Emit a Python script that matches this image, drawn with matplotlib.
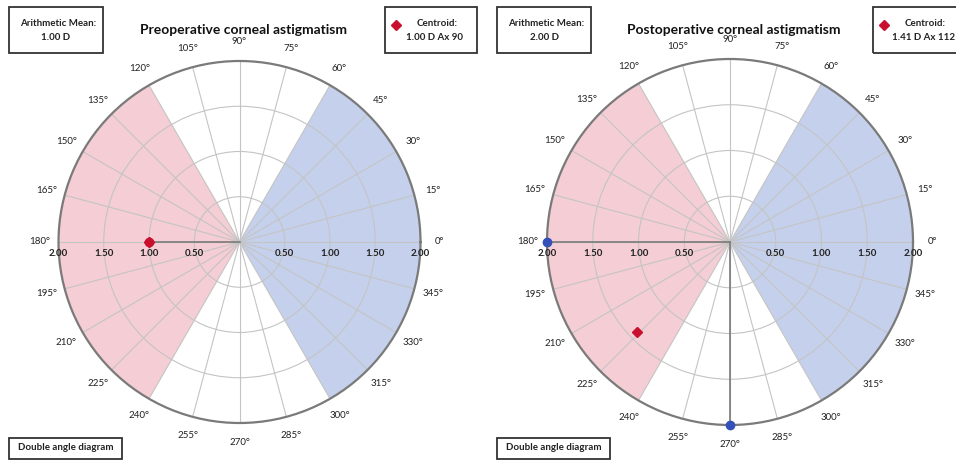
import numpy as np
import matplotlib.pyplot as plt
from matplotlib.patches import Rectangle
from matplotlib.lines import Line2D

titles = ['Preoperative corneal astigmatism', 'Postoperative corneal astigmatism']
mean_values = [1.00, 2.00]
centroid_mag = [1.00, 1.41]
centroid_axis = [90, 112]

# individual eyes: magnitude (D) and axis (deg); plotted at double angle
pre_mag = [1.00]
pre_axis = [90]
post_mag = [2.00, 2.00]
post_axis = [90, 135]

ring_values = [0.50, 1.00, 1.50, 2.00]
angle_ticks = list(range(0, 360, 15))

PINK = '#f5cdd4'
BLUE = '#c5d1ec'
RED = '#c8102e'
DOT_BLUE = '#3550b8'
GRID = '#c4c4c4'

plt.rcParams['font.family'] = ['Lato', 'DejaVu Sans']

W, H = 956, 462
fig = plt.figure(figsize=(W / 100, H / 100), dpi=100)


def px_rect(x0, y0, x1, y1):
    return [x0 / W, 1 - y1 / H, (x1 - x0) / W, (y1 - y0) / H]


def box(x0, y0, x1, y1):
    fig.patches.append(Rectangle((x0 / W, 1 - y1 / H), (x1 - x0) / W, (y1 - y0) / H,
                                 transform=fig.transFigure, fill=False,
                                 edgecolor='#333333', linewidth=1.3))


def draw_panel(cx, cy, R, title, c_mag, c_axis, mags, axes, dot_color):
    ax = fig.add_axes(px_rect(cx - R, cy - R, cx + R, cy + R), projection='polar')
    ax.set_ylim(0, 2.0)
    ax.set_yticks(ring_values[:-1])
    ax.set_yticklabels([])
    ax.set_xticks(np.deg2rad(angle_ticks))
    ax.set_xticklabels([])
    ax.grid(True, color=GRID, linewidth=0.8)
    ax.spines['polar'].set_color('#7a7a7a')
    ax.spines['polar'].set_linewidth(1.6)

    # astigmatism sectors
    ax.bar(np.deg2rad(180), 2.0, width=np.deg2rad(120), color=PINK, zorder=0, linewidth=0)
    ax.bar(np.deg2rad(0), 2.0, width=np.deg2rad(120), color=BLUE, zorder=0, linewidth=0)

    # angle labels
    for a in angle_ticks:
        ax.text(np.deg2rad(a), 2.21, f'{a}°', ha='center', va='center', fontsize=7,
                color='#222222')

    # ring labels along the horizontal axis
    for r in ring_values:
        for side in (0, 180):
            ax.annotate(f'{r:.2f}', xy=(np.deg2rad(side), r), xytext=(0, -8),
                        textcoords='offset points', ha='center', va='center',
                        fontsize=7, fontweight='bold', color='#222222')

    # eyes
    for m, a in zip(mags, axes):
        th = np.deg2rad(2 * a)
        ax.plot([0, th], [0, m], color='#7a7a7a', linewidth=1.2, zorder=3)
        ax.plot(th, m, 'o', color=dot_color, markersize=6, zorder=4, clip_on=False)

    # centroid
    ax.plot(np.deg2rad(2 * c_axis), c_mag, 'D', color=RED, markersize=5, zorder=5,
            clip_on=False)

    fig.text((cx + 4) / W, 1 - 30 / H, title, ha='center', va='center', fontsize=10,
             fontweight='bold', color='#111111')


draw_panel(239.5, 242, 181, titles[0], centroid_mag[0], centroid_axis[0],
           pre_mag, pre_axis, RED)
draw_panel(730, 242, 183, titles[1], centroid_mag[1], centroid_axis[1],
           post_mag, post_axis, DOT_BLUE)

# info boxes
for off, mean, c_mag, c_axis in [(0, mean_values[0], centroid_mag[0], centroid_axis[0]),
                                   (488, mean_values[1], centroid_mag[1], centroid_axis[1])]:
    box(9 + off, 7, 103 + off, 53)
    fig.text((58 + off) / W, 1 - 23 / H, 'Arithmetic Mean:', ha='center', va='center',
             fontsize=7, fontweight='bold', color='#222222')
    fig.text((56 + off) / W, 1 - 37 / H, f'{mean:.2f} D', ha='center', va='center',
             fontsize=7, fontweight='bold', color='#222222')

    box(385 + off, 7, 477 + off, 53)
    fig.lines.append(Line2D([(396 + off) / W], [1 - 25 / H], marker='D', color=RED,
                            markersize=5, transform=fig.transFigure))
    fig.text((437 + off) / W, 1 - 23 / H, 'Centroid:', ha='center', va='center',
             fontsize=7, fontweight='bold', color='#222222')
    fig.text((435 + off) / W, 1 - 37 / H, f'{c_mag:.2f} D Ax {c_axis}', ha='center',
             va='center', fontsize=7, fontweight='bold', color='#222222')

    box(9 + off, 438, 122 + off, 459)
    fig.text((66 + off) / W, 1 - 448 / H, 'Double angle diagram', ha='center', va='center',
             fontsize=7, fontweight='bold', color='#222222')

fig.savefig('out.png', dpi=100)
